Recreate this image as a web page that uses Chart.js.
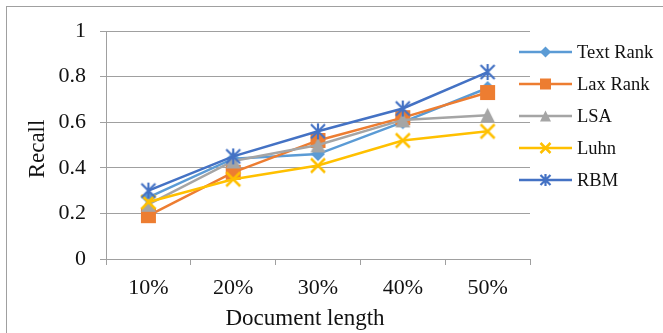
<!DOCTYPE html>
<html>
<head>
<meta charset="utf-8">
<script src="https://cdn.jsdelivr.net/npm/chart.js@4/dist/chart.umd.min.js"></script>
<style>
  html, body { margin: 0; padding: 0; background: #fff; overflow: hidden; }
  #frame { position: absolute; left: 6px; top: 6px; width: 700px; height: 400px;
           border: 1px solid #a0a0a0; box-sizing: border-box; }
  #wrap { position: absolute; left: 0; top: 0; width: 663px; height: 333px; }
</style>
</head>
<body>
<div id="frame"></div>
<div id="wrap"><canvas id="c" width="663" height="333"></canvas></div>
<script>
// Recall by document length for five summarisation methods
const categories = ['10%', '20%', '30%', '40%', '50%'];
const textRank = [0.27, 0.44, 0.46, 0.60, 0.75];
const laxRank  = [0.19, 0.38, 0.52, 0.62, 0.73];
const lsa      = [0.24, 0.43, 0.50, 0.61, 0.63];
const luhn     = [0.25, 0.35, 0.41, 0.52, 0.56];
const rbm      = [0.30, 0.45, 0.56, 0.66, 0.82];
const yTicks   = [0, 0.2, 0.4, 0.6, 0.8, 1];

const seriesNames  = ['Text Rank', 'Lax Rank', 'LSA', 'Luhn', 'RBM'];
const seriesValues = [textRank, laxRank, lsa, luhn, rbm];
const seriesColors = ['#5B9BD5', '#ED7D31', '#A5A5A5', '#FFC000', '#4472C4'];
const seriesMarks  = ['diamond', 'square', 'triangle', 'x', 'asterisk'];

const FONT = "'Liberation Serif', 'Times New Roman', serif";
const GRID = '#a0a0a0';

// Draw one marker shape centred on (x, y) with overall size s
function drawMarker(ctx, kind, x, y, s, color) {
  const h = s / 2;
  ctx.save();
  ctx.fillStyle = color;
  ctx.strokeStyle = color;
  ctx.lineCap = 'butt';
  ctx.beginPath();
  if (kind === 'diamond') {
    ctx.moveTo(x, y - h); ctx.lineTo(x + h, y); ctx.lineTo(x, y + h); ctx.lineTo(x - h, y);
    ctx.closePath(); ctx.fill();
  } else if (kind === 'square') {
    ctx.rect(x - h, y - h, s, s); ctx.fill();
  } else if (kind === 'triangle') {
    ctx.moveTo(x, y - h); ctx.lineTo(x + h, y + h); ctx.lineTo(x - h, y + h);
    ctx.closePath(); ctx.fill();
  } else if (kind === 'x') {
    ctx.lineWidth = 2.5;
    ctx.moveTo(x - h, y - h); ctx.lineTo(x + h, y + h);
    ctx.moveTo(x + h, y - h); ctx.lineTo(x - h, y + h);
    ctx.stroke();
  } else if (kind === 'asterisk') {
    ctx.lineWidth = 2.2;
    ctx.moveTo(x - h, y - h); ctx.lineTo(x + h, y + h);
    ctx.moveTo(x + h, y - h); ctx.lineTo(x - h, y + h);
    ctx.moveTo(x, y - h - 1); ctx.lineTo(x, y + h + 1);
    ctx.stroke();
  }
  ctx.restore();
}

// Offscreen canvas used as a point style
function markerImage(kind, s, color) {
  const size = Math.ceil(s + 6);
  const cv = document.createElement('canvas');
  cv.width = size; cv.height = size;
  drawMarker(cv.getContext('2d'), kind, size / 2, size / 2, s, color);
  return cv;
}

const chartMarkSize = { diamond: 14, square: 15, triangle: 15, x: 14, asterisk: 14 };
const legendMarkSize = { diamond: 11, square: 11, triangle: 11, x: 10, asterisk: 10 };

const datasets = seriesNames.map((name, i) => ({
  label: name,
  data: seriesValues[i],
  borderColor: seriesColors[i],
  backgroundColor: seriesColors[i],
  borderWidth: 2.5,
  pointStyle: markerImage(seriesMarks[i], chartMarkSize[seriesMarks[i]], seriesColors[i]),
  pointRadius: 8,
  tension: 0,
  order: seriesNames.length - i
}));

// Axis titles and the line-and-marker legend
const decorations = {
  id: 'decorations',
  afterDraw(chart) {
    const ctx = chart.ctx;
    ctx.save();
    ctx.fillStyle = '#111';
    ctx.font = '23px ' + FONT;
    ctx.textAlign = 'center';
    ctx.textBaseline = 'middle';
    ctx.fillText('Document length', 305, 319);
    ctx.save();
    ctx.translate(38, 149);
    ctx.rotate(-Math.PI / 2);
    ctx.fillText('Recall', 0, 0);
    ctx.restore();

    ctx.font = '18.5px ' + FONT;
    ctx.textAlign = 'left';
    chart.data.datasets.forEach((ds, i) => {
      const y = 52 + 32 * i;
      ctx.strokeStyle = seriesColors[i];
      ctx.lineWidth = 2.5;
      ctx.beginPath();
      ctx.moveTo(519, y); ctx.lineTo(572, y);
      ctx.stroke();
      drawMarker(ctx, seriesMarks[i], 545.5, y, legendMarkSize[seriesMarks[i]], seriesColors[i]);
      ctx.fillStyle = '#111';
      ctx.fillText(ds.label, 577, y + 1);
    });
    ctx.restore();
  }
};

new Chart(document.getElementById('c'), {
  type: 'line',
  data: { labels: categories, datasets },
  options: {
    responsive: false,
    animation: false,
    layout: { padding: { left: 0, right: 133, top: 31, bottom: 0 } },
    plugins: { legend: { display: false }, tooltip: { enabled: false } },
    scales: {
      x: {
        offset: true,
        grid: { offset: true, drawOnChartArea: false, drawTicks: true, tickLength: 6, color: GRID },
        border: { color: GRID, width: 1 },
        ticks: { color: '#111', font: { family: FONT, size: 22 }, padding: 10, maxRotation: 0 },
        afterFit(scale) { scale.height = 74; }
      },
      y: {
        min: 0, max: 1,
        afterBuildTicks(scale) { scale.ticks = yTicks.map(v => ({ value: v })); },
        grid: { color: GRID, tickLength: 6, lineWidth: 1 },
        border: { color: GRID, width: 1 },
        ticks: { color: '#111', font: { family: FONT, size: 22 }, padding: 14,
                 callback: v => String(v) },
        afterFit(scale) { scale.width = 106; }
      }
    }
  },
  plugins: [decorations]
});
</script>
</body>
</html>
